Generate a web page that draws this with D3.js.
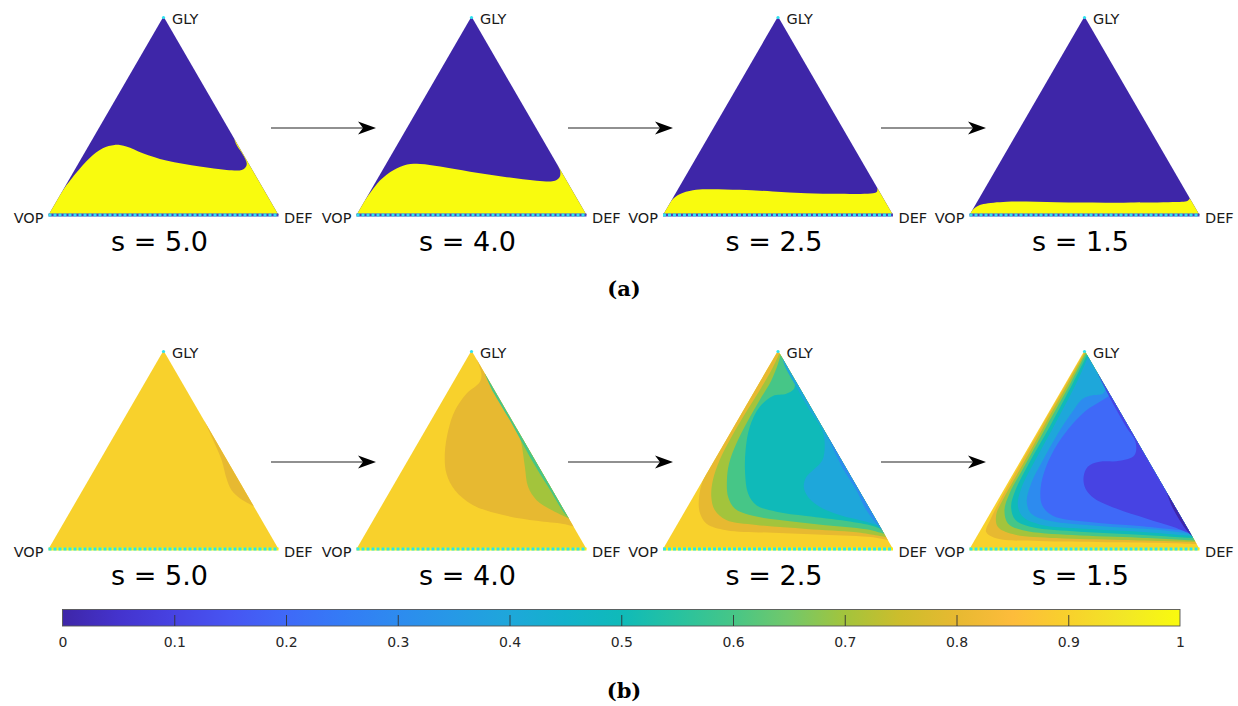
<!DOCTYPE html>
<html><head><meta charset="utf-8">
<script src="https://cdn.jsdelivr.net/npm/d3@7"></script>
<style>body{margin:0;background:#fff}</style>
</head><body>
<svg id="c" width="1238" height="706"></svg>
<script>
// ---------------- data ----------------
const sLabels = ["s = 5.0", "s = 4.0", "s = 2.5", "s = 1.5"];
const vertexNames = ["GLY", "VOP", "DEF"];
const panelLetters = ["(a)", "(b)"];
const cbTicks = [0, 0.1, 0.2, 0.3, 0.4, 0.5, 0.6, 0.7, 0.8, 0.9, 1];
const parulaStops = ["#3e26a8","#4433cd","#4743e3","#4755f2","#3f69f8","#347bf6","#2d8bef","#2699e6",
  "#1ea7da","#12b2cb","#0fbab9","#27c2a0","#46c687","#72c86a","#a3c43c","#cdbd2c","#e7b931",
  "#fdbc3b","#f8d12c","#f2e726","#f9fb0e"];

// row (a): boundary of the yellow (value 1) region, [u, v] in triangle coords
const boundaryA50 = [[0.068,0.134],[0.119,0.210],[0.178,0.286],[0.236,0.336],[0.287,0.353],[0.338,0.345],
  [0.410,0.311],[0.512,0.274],[0.658,0.244],[0.774,0.227],[0.840,0.227],[0.856,0.239],[0.862,0.257],
  [0.856,0.281],[0.840,0.314],[0.818,0.353],[0.806,0.388]];
const boundaryA40 = [[0.043,0.084],[0.104,0.176],[0.162,0.227],[0.220,0.255],[0.277,0.257],[0.364,0.244],
  [0.494,0.218],[0.639,0.193],[0.783,0.173],[0.863,0.173],[0.884,0.193],[0.885,0.225],[0.874,0.255]];
const boundaryA25 = [[0.022,0.047],[0.043,0.080],[0.072,0.105],[0.130,0.125],[0.188,0.130],[0.333,0.127],
  [0.478,0.119],[0.623,0.110],[0.768,0.107],[0.913,0.109],[0.930,0.117],[0.932,0.138]];
const boundaryA15 = [[0.010,0.022],[0.032,0.043],[0.061,0.055],[0.162,0.067],[0.379,0.064],[0.595,0.062],
  [0.884,0.065],[0.949,0.072],[0.958,0.084]];

// row (b): filled contour sub-level regions {level, boundary}
const regionsB50 = [
  {level: 0.8, pts: [[0.677,0.648],[0.716,0.548],[0.753,0.447],[0.774,0.355],[0.796,0.296],[0.833,0.255],[0.898,0.213]]}
];
const regionsB40 = [
  {level: 0.8, pts: [[0.523,0.953],[0.543,0.883],[0.536,0.841],[0.478,0.782],[0.428,0.698],[0.399,0.598],[0.384,0.481],
    [0.391,0.380],[0.428,0.296],[0.507,0.221],[0.638,0.171],[0.783,0.142],[0.899,0.126],[0.949,0.112]]},
  {level: 0.7, pts: [[0.659,0.682],[0.696,0.615],[0.717,0.531],[0.732,0.414],[0.746,0.313],[0.783,0.246],[0.848,0.196],[0.923,0.154]]},
  {level: 0.6, pts: [[0.558,0.883],[0.594,0.791],[0.667,0.648],[0.754,0.464],[0.833,0.313],[0.899,0.188],[0.923,0.154]]}
];
const regionsB25 = [
  {level: 0.8, pts: [[0.496,0.990],[0.471,0.941],[0.406,0.816],[0.333,0.673],[0.261,0.531],[0.210,0.430],[0.174,0.347],
    [0.157,0.263],[0.159,0.188],[0.188,0.129],[0.275,0.095],[0.478,0.082],[0.696,0.072],[0.913,0.059],[0.986,0.042]]},
  {level: 0.7, pts: [[0.504,0.980],[0.478,0.916],[0.420,0.799],[0.348,0.665],[0.290,0.548],[0.246,0.447],[0.217,0.347],
    [0.210,0.263],[0.225,0.196],[0.275,0.146],[0.406,0.121],[0.623,0.101],[0.841,0.084],[0.971,0.059]]},
  {level: 0.6, pts: [[0.514,0.987],[0.500,0.933],[0.471,0.849],[0.420,0.749],[0.362,0.631],[0.319,0.531],[0.287,0.430],
    [0.278,0.347],[0.283,0.263],[0.312,0.204],[0.377,0.171],[0.507,0.146],[0.696,0.121],[0.884,0.099],[0.964,0.075]]},
  {level: 0.5, pts: [[0.574,0.849],[0.570,0.807],[0.536,0.782],[0.478,0.771],[0.420,0.715],[0.377,0.615],[0.359,0.497],
    [0.357,0.380],[0.370,0.280],[0.406,0.221],[0.493,0.188],[0.623,0.166],[0.797,0.141],[0.913,0.116],[0.957,0.095]]},
  {level: 0.4, pts: [[0.520,0.960],[0.532,0.916],[0.580,0.816],[0.638,0.699],[0.693,0.598],[0.703,0.531],[0.693,0.447],
    [0.652,0.397],[0.623,0.363],[0.612,0.313],[0.630,0.263],[0.681,0.213],[0.768,0.171],[0.884,0.137],[0.949,0.112]]},
  {level: 0.3, pts: [[0.716,0.566],[0.786,0.399],[0.841,0.296],[0.884,0.196],[0.939,0.112],[0.978,0.054]]}
];
const regionsB15 = [
  {level: 0.8, pts: [[0.500,0.993],[0.425,0.841],[0.313,0.615],[0.214,0.414],[0.133,0.246],[0.090,0.146],[0.072,0.087],
    [0.116,0.054],[0.304,0.040],[0.594,0.034],[0.884,0.029],[1.003,0.023]]},
  {level: 0.7, pts: [[0.503,0.990],[0.432,0.841],[0.322,0.615],[0.226,0.414],[0.148,0.255],[0.116,0.171],[0.123,0.112],
    [0.188,0.075],[0.377,0.055],[0.667,0.045],[1.000,0.034]]},
  {level: 0.6, pts: [[0.507,0.987],[0.442,0.841],[0.333,0.615],[0.241,0.422],[0.174,0.280],[0.152,0.196],[0.167,0.129],
    [0.232,0.095],[0.449,0.070],[0.739,0.057],[0.993,0.042]]},
  {level: 0.5, pts: [[0.512,0.980],[0.452,0.841],[0.348,0.615],[0.258,0.431],[0.200,0.297],[0.181,0.213],[0.200,0.146],
    [0.275,0.109],[0.478,0.087],[0.739,0.072],[0.986,0.054]]},
  {level: 0.4, pts: [[0.516,0.970],[0.467,0.841],[0.365,0.615],[0.278,0.431],[0.225,0.306],[0.210,0.221],[0.232,0.162],
    [0.304,0.124],[0.522,0.101],[0.768,0.085],[0.978,0.065]]},
  {level: 0.3, pts: [[0.594,0.812],[0.580,0.782],[0.536,0.774],[0.493,0.757],[0.442,0.682],[0.384,0.581],[0.319,0.447],
    [0.268,0.330],[0.249,0.238],[0.268,0.179],[0.348,0.142],[0.565,0.116],[0.797,0.099],[0.971,0.075]]},
  {level: 0.2, pts: [[0.613,0.774],[0.565,0.740],[0.507,0.698],[0.449,0.631],[0.384,0.531],[0.333,0.414],[0.309,0.305],
    [0.316,0.221],[0.362,0.168],[0.522,0.136],[0.739,0.116],[0.964,0.089]]},
  {level: 0.1, pts: [[0.558,0.883],[0.609,0.765],[0.681,0.616],[0.722,0.539],[0.717,0.472],[0.652,0.444],[0.565,0.439],
    [0.514,0.414],[0.496,0.363],[0.504,0.305],[0.543,0.255],[0.638,0.204],[0.768,0.154],[0.884,0.112],[0.974,0.070]]},
  {level: 0.0, pts: [[0.859,0.280],[0.881,0.213],[0.913,0.146],[0.949,0.087],[0.978,0.054]]}
];
const boundariesA = [boundaryA50, boundaryA40, boundaryA25, boundaryA15];
const regionsB = [regionsB50, regionsB40, regionsB25, regionsB15];

// ---------------- layout ----------------
const svg = d3.select("#c");
const W = 230, H = 198.5;
const centers = [163.5, 471.5, 778, 1084.5];
const arrowTips = [376, 673, 986];
const arrowLen = 105;
const baseA = 215, baseB = 549;
const FONT = "DejaVu Sans, Verdana, sans-serif";

const cmap = d3.scaleLinear()
  .domain(parulaStops.map((d, i) => i / (parulaStops.length - 1)))
  .range(parulaStops).clamp(true);

const defs = svg.append("defs");

function makePanel(i, baseY, id) {
  const cx = centers[i];
  const x = d3.scaleLinear([0, 1], [cx - W / 2, cx + W / 2]);
  const y = d3.scaleLinear([0, 1], [baseY, baseY - H]);
  const tri = [[0, 0], [1, 0], [0.5, 1]];
  const triPath = "M" + tri.map(p => x(p[0]) + "," + y(p[1])).join("L") + "Z";
  defs.append("clipPath").attr("id", id).append("path").attr("d", triPath);
  const g = svg.append("g");
  return {g, x, y, triPath, cx, baseY};
}
const lineGen = (x, y) => d3.line().x(d => x(d[0])).y(d => y(d[1])).curve(d3.curveCatmullRom.alpha(0.5));

function decorate(p, i, gapColor) {
  const {g, x, y} = p;
  g.append("line").attr("x1", x(0)).attr("x2", x(1)).attr("y1", y(0)).attr("y2", y(0))
    .attr("stroke", gapColor).attr("stroke-width", 3);
  g.append("line").attr("x1", x(0)).attr("x2", x(1)).attr("y1", y(0)).attr("y2", y(0))
    .attr("stroke", "#2fe3ef").attr("stroke-width", 3).attr("stroke-dasharray", "3,2");
  g.append("circle").attr("cx", x(0.5)).attr("cy", y(1) + 1).attr("r", 1.6).attr("fill", "#2fe3ef");
  const t = g.append("g").attr("font-family", FONT).attr("fill", "#1a1a1a");
  t.append("text").attr("x", x(0.5) + 8.5).attr("y", y(1) + 7.3).attr("font-size", 14.5).text(vertexNames[0]);
  t.append("text").attr("x", x(0) - 5).attr("y", y(0) + 7.6).attr("font-size", 14.5).attr("text-anchor", "end").text(vertexNames[1]);
  t.append("text").attr("x", x(1) + 5.5).attr("y", y(0) + 7.6).attr("font-size", 14.5).text(vertexNames[2]);
  t.append("text").attr("x", p.cx - 4).attr("y", y(0) + 35.5).attr("font-size", 27).attr("text-anchor", "middle")
    .attr("fill", "#000").text(sLabels[i]);
}

// row (a)
boundariesA.forEach((b, i) => {
  const p = makePanel(i, baseA, "clipA" + i);
  p.g.append("path").attr("d", p.triPath).attr("fill", cmap(0));
  const d = lineGen(p.x, p.y)(b) + `L${p.x(1.03)},${p.y(-0.02)}L${p.x(-0.03)},${p.y(-0.02)}Z`;
  p.g.append("path").attr("d", d).attr("fill", cmap(1)).attr("clip-path", `url(#clipA${i})`);
  decorate(p, i, "#4f3fbb");
});

// row (b)
const off = [17.3, -10];
regionsB.forEach((regs, i) => {
  const p = makePanel(i, baseB, "clipB" + i);
  p.g.append("path").attr("d", p.triPath).attr("fill", cmap(0.9));
  regs.forEach(r => {
    const s = r.pts[0], e = r.pts[r.pts.length - 1];
    const d = lineGen(p.x, p.y)(r.pts) +
      `L${p.x(e[0]) + off[0]},${p.y(e[1]) + off[1]}L${p.x(s[0]) + off[0]},${p.y(s[1]) + off[1]}Z`;
    p.g.append("path").attr("d", d).attr("fill", cmap(r.level)).attr("clip-path", `url(#clipB${i})`);
  });
  decorate(p, i, "#f4f012");
});

// arrows
[128, 462].forEach(ay => {
  arrowTips.forEach(tip => {
    const x1 = tip - arrowLen;
    svg.append("line").attr("x1", x1).attr("x2", tip - 12).attr("y1", ay).attr("y2", ay)
      .attr("stroke", "#222").attr("stroke-width", 1.2);
    svg.append("path").attr("d", `M${tip},${ay}L${tip - 18},${ay - 6.5}L${tip - 13},${ay}L${tip - 18},${ay + 6.5}Z`)
      .attr("fill", "#000");
  });
});

// panel letters
panelLetters.forEach((l, k) => {
  svg.append("text").attr("x", 624).attr("y", k === 0 ? 296 : 698).attr("text-anchor", "middle")
    .attr("font-family", "DejaVu Serif, serif").attr("font-weight", "bold").attr("font-size", 21).text(l);
});

// colorbar
const cbX = d3.scaleLinear([0, 1], [62.5, 1180]);
const cbTop = 609.5, cbBot = 626;
const grad = defs.append("linearGradient").attr("id", "parula").attr("x1", "0").attr("x2", "1").attr("y1", "0").attr("y2", "0");
parulaStops.forEach((c, i) => grad.append("stop").attr("offset", i / (parulaStops.length - 1)).attr("stop-color", c));
svg.append("rect").attr("x", cbX(0)).attr("y", cbTop).attr("width", cbX(1) - cbX(0)).attr("height", cbBot - cbTop)
  .attr("fill", "url(#parula)").attr("stroke", "#555").attr("stroke-width", 0.9);
const inner = svg.append("g").attr("transform", `translate(0,${cbBot})`)
  .call(d3.axisTop(cbX).tickValues(cbTicks.slice(1, -1)).tickSize(11).tickFormat(""));
inner.select(".domain").remove();
inner.selectAll("line").attr("stroke", "#333").attr("stroke-width", 0.9);
const lab = svg.append("g").attr("transform", `translate(0,${cbBot})`)
  .call(d3.axisBottom(cbX).tickValues(cbTicks).tickSize(0).tickPadding(11).tickFormat(d3.format("~g")));
lab.select(".domain").remove();
lab.selectAll("text").attr("font-family", FONT).attr("font-size", 14).attr("fill", "#262626");
</script>
</body></html>
